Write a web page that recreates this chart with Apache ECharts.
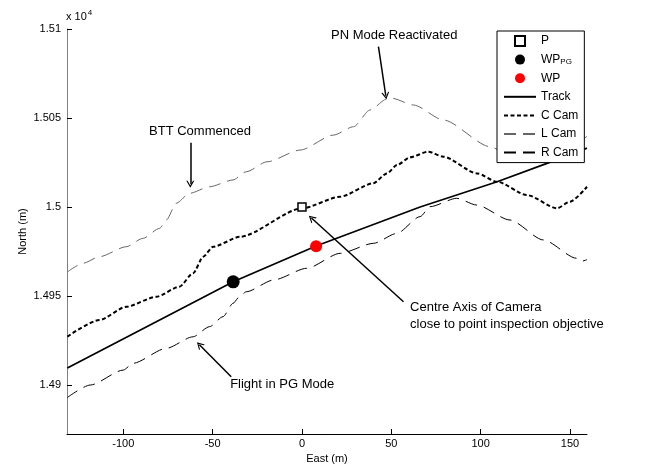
<!DOCTYPE html>
<html>
<head>
<meta charset="utf-8">
<script src="https://cdn.jsdelivr.net/npm/echarts@6/dist/echarts.min.js"></script>
<style>html,body{margin:0;padding:0;background:#fff;}#c{width:646px;height:471px;}</style>
</head>
<body>
<div id="c"></div>
<script>
// ---- data (East m, North m) ----
const trackX = [-131.3, -38.5, 7.9, 66.1, 109.2, 137.1, 159.5];
const trackY = [14909.6, 14958, 14978.1, 15000, 15014.2, 15024.5, 15033.1];

const cCamX = [-131.3, -113.4, -98.3, -81.5, -68.7, -60.9, -55.3, -49.7, -34.6, 0.1, 21.4, 39.8, 47.6, 53.2, 60.5, 70.6, 79, 98, 109.2, 125.9, 142.7, 150, 159.5];
const cCamY = [14927.2, 14936.5, 14944, 14949.6, 14955.2, 14962.8, 14972.1, 14977.7, 14983.3, 14999.3, 15005.8, 15013.3, 15018.9, 15023.6, 15027.9, 15031.1, 15028.3, 15018.9, 15014.2, 15006.7, 14999.3, 15003, 15011.4];

const lCamX = [-131.3, -122.5, -113.3, -98.3, -89, -79.7, -75.9, -70.4, -62.9, -51.7, -38.6, -31.2, -19.6, -1, 17.6, 28.8, 38.1, 47.5, 50.3, 62.4, 79.1, 105.3, 116.5, 124, 136, 147.3, 159.5];
const lCamY = [14963.5, 14968.4, 14972.1, 14977.7, 14982.4, 14988, 14992.7, 15002.1, 15007.7, 15011.4, 15015.2, 15019.8, 15025.4, 15032, 15040.4, 15045.1, 15054.5, 15060.7, 15061.1, 15057.3, 15048.9, 15033.9, 15028.7, 15027.5, 15029.5, 15034.3, 15039.6];

const rCamX = [-131.3, -118.5, -100, -94.6, -76, -61, -51.7, -44.2, -38.6, -35, -31.2, -15.9, 2.7, 21.4, 40, 53.1, 66.1, 71.7, 86.6, 97.8, 116.4, 135.1, 153.7, 157.2, 159.5];
const rCamY = [14893, 14900, 14908.4, 14912.2, 14920.6, 14927.1, 14932.8, 14938.4, 14945.9, 14949.6, 14952.4, 14959, 14965.6, 14974, 14979.6, 14985.2, 14994.6, 15000.2, 15004.9, 15001.1, 14992.7, 14981.5, 14971.2, 14969.7, 14970.5];

const pointP = [0, 15000];
const pointWPPG = [-38.5, 14958];
const pointWP = [7.9, 14978];

const xTicks = [-100, -50, 0, 50, 100, 150];
const yTicks = [14900, 14950, 15000, 15050, 15100];

const markerNames = ['P', 'WP_PG', 'WP'];
const lineNames = ['Track', 'C Cam', 'L Cam', 'R Cam'];

// annotations: text anchor and arrow [from, to] in data coords
const annotTexts = [
  { name: 'PN Mode Reactivated', at: [51.6, 15096.6], align: 'center', va: 'middle' },
  { name: 'BTT Commenced', at: [-57.1, 15042.3], align: 'center', va: 'middle' },
  { name: 'Flight in PG Mode', at: [-40.2, 14900.6], align: 'left', va: 'middle' },
  { name: 'Centre Axis of Camera\nclose to point inspection objective', at: [60.5, 14948.5], align: 'left', va: 'top' }
];
const annotArrows = [
  [[42.8, 15090.1], [46.9, 15062.5]],
  [[-62.5, 15036.1], [-62.5, 15012.8]],
  [[-39.6, 14904.7], [-57.4, 14922.6]],
  [[56.8, 14946.8], [5.3, 14993.8]]
];

const pairs = (xs, ys) => xs.map((x, i) => [x, ys[i]]);
const FONT = 'Liberation Sans, Arial, sans-serif';
const chevron = 'path://M0,10 L5,0 L10,10 L8.4,10 L5,3.2 L1.6,10 Z';
const squareIcon = 'path://M0,0 L10,0 L10,10 L0,10 Z';

const chart = echarts.init(document.getElementById('c'), null, { renderer: 'canvas' });

const lineBase = { type: 'line', symbol: 'none', showSymbol: false, smoothMonotone: 'x', animation: false, z: 2 };

chart.setOption({
  backgroundColor: '#fff',
  animation: false,
  textStyle: { fontFamily: FONT },
  grid: { left: 67, right: 59, top: 29, bottom: 37, containLabel: false },
  xAxis: {
    type: 'value', min: -131.5, max: 159.5,
    name: 'East (m)', nameLocation: 'middle', nameGap: 19,
    nameTextStyle: { color: '#000', fontSize: 11, fontFamily: FONT },
    axisLine: { show: true, onZero: false, lineStyle: { color: '#000', width: 1 } },
    axisTick: { show: true, inside: true, length: 5, lineStyle: { color: '#000' }, customValues: xTicks },
    axisLabel: { color: '#000', fontSize: 11, margin: 4, fontFamily: FONT, customValues: xTicks },
    splitLine: { show: false }
  },
  yAxis: {
    type: 'value', min: 14872.5, max: 15100,
    name: 'North (m)', nameLocation: 'middle', nameGap: 39, nameMoveOverlap: false,
    nameTextStyle: { color: '#000', fontSize: 11, fontFamily: FONT },
    axisLine: { show: true, onZero: false, lineStyle: { color: '#808080', width: 1 } },
    axisTick: { show: true, inside: true, length: 5, lineStyle: { color: '#000' }, customValues: yTicks },
    axisLabel: { color: '#000', fontSize: 11, margin: 6, fontFamily: FONT, customValues: yTicks,
      formatter: v => String(+(v / 1e4).toFixed(4)) },
    splitLine: { show: false }
  },
  legend: {
    data: [{ name: 'P', icon: squareIcon }, { name: 'WP_PG' }, { name: 'WP' }]
      .concat(lineNames.map(n => ({ name: n, itemStyle: { opacity: 0 } }))),
    orient: 'vertical', left: 497, top: 31,
    backgroundColor: '#fff', borderColor: '#000', borderWidth: 1,
    padding: [3, 6, 3, 6],
    itemWidth: 32, itemHeight: 10, itemGap: 4.6,
    symbolKeepAspect: true,
    textStyle: { color: '#000', fontSize: 12, lineHeight: 14, fontFamily: FONT,
      rich: { n: { fontSize: 12, lineHeight: 14, color: '#000' }, s: { fontSize: 8, lineHeight: 14, color: '#000', padding: [5, 0, 0, 0] } } },
    formatter: n => n === 'WP_PG' ? '{n|WP}{s|PG}' : n,
    selectedMode: false
  },
  graphic: [{
    type: 'text', left: 66, top: 9,
    style: { rich: { a: { fontSize: 11, fontFamily: FONT, fill: '#000' }, b: { fontSize: 8, fontFamily: FONT, fill: '#000', padding: [0, 0, 7, 1] } },
      text: '{a|x 10}{b|4}' }
  }],
  series: [
    { name: 'P', type: 'scatter', data: [pointP], symbol: 'rect', symbolSize: 8, z: 5, symbolKeepAspect: true,
      itemStyle: { color: '#fff', borderColor: '#000', borderWidth: 1.5, opacity: 1 } },
    { name: 'WP_PG', type: 'scatter', data: [pointWPPG], symbol: 'circle', symbolSize: 13, z: 5,
      itemStyle: { color: '#000', opacity: 1 } },
    { name: 'WP', type: 'scatter', data: [pointWP], symbol: 'circle', symbolSize: 12, z: 5,
      itemStyle: { color: '#ff0000', opacity: 1 } },
    Object.assign({}, lineBase, { name: 'Track', data: pairs(trackX, trackY), color: '#000', smooth: false,
      lineStyle: { color: '#000', width: 1.7, type: 'solid' } }),
    Object.assign({}, lineBase, { name: 'C Cam', data: pairs(cCamX, cCamY), color: '#000', smooth: 0.25,
      lineStyle: { color: '#000', width: 2, type: [4, 2.5] } }),
    Object.assign({}, lineBase, { name: 'L Cam', data: pairs(lCamX, lCamY), color: '#666', smooth: 0.25,
      lineStyle: { color: '#666', width: 1, type: [12, 7] } }),
    Object.assign({}, lineBase, { name: 'R Cam', data: pairs(rCamX, rCamY), color: '#000', smooth: 0.25,
      lineStyle: { color: '#000', width: 1, type: [12, 7] } }),
    {
      name: 'annot', type: 'scatter', data: [], clip: false, silent: true, z: 6,
      markLine: {
        silent: true, animation: false,
        symbol: ['none', chevron], symbolSize: [8, 7],
        lineStyle: { color: '#000', width: 1.5, type: 'solid' },
        label: { show: false },
        data: annotArrows.map(a => [{ coord: a[0] }, { coord: a[1] }])
      },
      markPoint: {
        silent: true, animation: false, symbol: 'circle', symbolSize: 0,
        data: annotTexts.map(t => ({
          coord: t.at, name: t.name,
          label: { show: true, position: [0, 0], align: t.align, verticalAlign: t.va,
            formatter: '{b}', color: '#000', fontSize: 13, lineHeight: 17, fontFamily: FONT }
        }))
      }
    }
  ]
});
</script>
</body>
</html>
